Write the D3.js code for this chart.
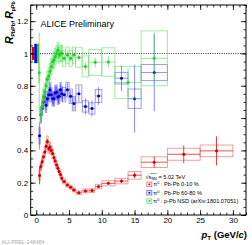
<!DOCTYPE html>
<html><head><meta charset="utf-8">
<script src="https://cdn.jsdelivr.net/npm/d3@7"></script>
<style>
body{margin:0;background:#fff}
svg{display:block}
text{font-family:"Liberation Sans",Arial,Helvetica,sans-serif}
</style>
</head><body>
<svg id="c" width="252" height="245"></svg>
<script>
// ---------------- data ----------------
// pi0 Pb-Pb 0-10 %
const redPt   = [0.5,0.7,0.9,1.1,1.3,1.5,1.7,1.9,2.1,2.3,2.5,2.7,2.9,3.1,3.3,3.5,3.7,3.9,4.25,4.75,5.25,5.75,6.5,7.5,8.5,9.5,11,13,15,18,22.5,27.5];
const redVal  = [0.245,0.30,0.33,0.36,0.39,0.425,0.455,0.41,0.42,0.40,0.38,0.355,0.335,0.31,0.29,0.27,0.25,0.228,0.208,0.186,0.172,0.155,0.138,0.149,0.151,0.176,0.196,0.21,0.246,0.327,0.376,0.397];
const redStat = [0.055,0.02,0.015,0.012,0.012,0.012,0.015,0.012,0.01,0.01,0.01,0.01,0.01,0.01,0.01,0.01,0.01,0.01,0.008,0.008,0.008,0.008,0.008,0.008,0.009,0.01,0.01,0.012,0.018,0.034,0.055,0.09];
const redSyst = [0.03,0.025,0.025,0.025,0.03,0.03,0.035,0.03,0.03,0.028,0.027,0.025,0.024,0.022,0.02,0.019,0.018,0.016,0.015,0.013,0.012,0.012,0.011,0.012,0.012,0.014,0.016,0.017,0.024,0.033,0.037,0.036];
const redEx   = [0.1,0.1,0.1,0.1,0.1,0.1,0.1,0.1,0.1,0.1,0.1,0.1,0.1,0.1,0.1,0.1,0.1,0.1,0.25,0.25,0.25,0.25,0.4,0.4,0.4,0.5,1,1,1,2,2.5,2.5];

// pi0 Pb-Pb 60-80 %
const bluePt   = [0.5,0.7,0.9,1.1,1.3,1.5,1.7,1.9,2.1,2.3,2.5,2.7,2.9,3.1,3.3,3.5,3.7,3.9,4.25,4.75,5.25,5.75,6.5,7.5,8.5,9.5,13,15,18];
const blueVal  = [0.49,0.62,0.66,0.70,0.73,0.68,0.72,0.745,0.775,0.745,0.72,0.72,0.755,0.76,0.73,0.735,0.775,0.75,0.745,0.775,0.735,0.69,0.75,0.672,0.66,0.737,0.847,0.72,0.882];
const blueStat = [0.085,0.04,0.035,0.035,0.035,0.035,0.035,0.035,0.035,0.035,0.035,0.035,0.035,0.035,0.035,0.035,0.035,0.035,0.035,0.04,0.04,0.04,0.05,0.05,0.05,0.055,0.08,0.21,0.24];
const blueSyst = [0.05,0.045,0.045,0.045,0.045,0.045,0.045,0.045,0.045,0.045,0.045,0.045,0.045,0.045,0.045,0.045,0.045,0.045,0.045,0.045,0.045,0.045,0.055,0.035,0.035,0.04,0.036,0.06,0.05];
const blueEx   = [0.1,0.1,0.1,0.1,0.1,0.1,0.1,0.1,0.1,0.1,0.1,0.1,0.1,0.1,0.1,0.1,0.1,0.1,0.25,0.25,0.25,0.25,0.45,0.45,0.45,0.5,1,1,2];

// pi0 p-Pb NSD
const greenPt   = [0.45,0.7,0.9,1.1,1.3,1.5,1.7,1.9,2.1,2.3,2.5,2.7,2.9,3.1,3.3,3.5,3.7,3.9,4.25,4.75,5.25,5.75,6.5,7.5,9,11,14,18];
const greenVal  = [0.88,0.62,0.67,0.73,0.765,0.80,0.84,0.86,0.89,0.92,0.95,0.96,0.98,1.0,1.02,0.99,1.0,1.0,0.97,0.99,0.97,0.99,0.975,0.92,0.945,0.947,0.82,0.97];
const greenStat = [0.25,0.06,0.04,0.03,0.025,0.02,0.02,0.02,0.02,0.02,0.02,0.02,0.02,0.02,0.02,0.02,0.02,0.02,0.02,0.02,0.02,0.02,0.02,0.025,0.03,0.035,0.09,0.16];
const greenSyst = [0.06,0.05,0.05,0.05,0.05,0.05,0.05,0.05,0.05,0.05,0.05,0.05,0.05,0.05,0.05,0.05,0.05,0.05,0.05,0.05,0.05,0.05,0.06,0.065,0.08,0.088,0.1,0.17];
const greenEx   = [0.08,0.1,0.1,0.1,0.1,0.1,0.1,0.1,0.1,0.1,0.1,0.1,0.1,0.1,0.1,0.1,0.1,0.1,0.25,0.25,0.25,0.25,0.5,0.5,1,1,2,2];

// normalisation uncertainties (at R = 1)
const normLo  = [-0.66,-0.3,0.1];
const normHi  = [-0.3,0.1,0.42];
const normErr = [0.04,0.06,0.06];

const xMajorTicks = [0,5,10,15,20,25,30];
const yMajorTicks = [0,0.2,0.4,0.6,0.8,1.0,1.2];
const legendLabels = ["Pb-Pb 0-10 %","Pb-Pb 60-80 %","p-Pb NSD (arXiv:1801.07051)"];

// ---------------- drawing ----------------
const svg = d3.select("#c");
const L = 30.7, R = 246, T = 5, B = 215;
const x = d3.scaleLinear().domain([-0.85, 32]).range([L, R]);
const y = d3.scaleLinear().domain([0, 1.3]).range([B, T]);

svg.append("defs").append("clipPath").attr("id","clip")
  .append("rect").attr("x",L).attr("y",T).attr("width",R-L).attr("height",B-T);

const plot = svg.append("g").attr("clip-path","url(#clip)");

// dotted line at 1
plot.append("line").attr("x1",L).attr("x2",R).attr("y1",y(1)).attr("y2",y(1))
  .attr("stroke","#000").attr("stroke-width",0.8).attr("stroke-dasharray","1,1.3");

// normalisation boxes
const normColors = ["#e00000","#0000e0","#33cc33"];
plot.selectAll("rect.norm").data(normLo).join("rect").attr("class","norm")
  .attr("x",(d,i)=>x(normLo[i])).attr("width",(d,i)=>x(normHi[i])-x(normLo[i]))
  .attr("y",(d,i)=>y(1+normErr[i])).attr("height",(d,i)=>y(1-normErr[i])-y(1+normErr[i]))
  .attr("fill",(d,i)=>normColors[i]);

function series(pt,val,stat,syst,ex,boxC,barC,mC){
  const g = plot.append("g");
  const idx = d3.range(pt.length);
  g.selectAll("rect").data(idx).join("rect")
    .attr("x",i=>x(pt[i]-ex[i])).attr("width",i=>x(pt[i]+ex[i])-x(pt[i]-ex[i]))
    .attr("y",i=>y(val[i]+syst[i])).attr("height",i=>y(val[i]-syst[i])-y(val[i]+syst[i]))
    .attr("fill","none").attr("stroke",boxC).attr("stroke-width",0.9);
  g.selectAll("line.h").data(idx).join("line").attr("class","h")
    .attr("x1",i=>x(pt[i]-ex[i])).attr("x2",i=>x(pt[i]+ex[i]))
    .attr("y1",i=>y(val[i])).attr("y2",i=>y(val[i]))
    .attr("stroke",barC).attr("stroke-width",0.9);
  g.selectAll("line.v").data(idx).join("line").attr("class","v")
    .attr("x1",i=>x(pt[i])).attr("x2",i=>x(pt[i]))
    .attr("y1",i=>y(val[i]-stat[i])).attr("y2",i=>y(val[i]+stat[i]))
    .attr("stroke",barC).attr("stroke-width",1);
  g.selectAll("circle").data(idx).join("circle")
    .attr("cx",i=>x(pt[i])).attr("cy",i=>y(val[i])).attr("r",1.5).attr("fill",mC);
}
series(redPt,redVal,redStat,redSyst,redEx,"rgba(232,60,60,0.55)","rgba(225,30,30,0.85)","#d00000");
series(bluePt,blueVal,blueStat,blueSyst,blueEx,"rgba(60,60,230,0.55)","rgba(60,60,240,0.6)","#0000c8");
series(greenPt,greenVal,greenStat,greenSyst,greenEx,"rgba(80,220,80,0.6)","rgba(60,210,60,0.6)","#22cc22");

// frame
svg.append("rect").attr("x",L).attr("y",T).attr("width",R-L).attr("height",B-T)
  .attr("fill","none").attr("stroke","#000").attr("stroke-width",1);

const xMinor = d3.range(0,33,1);
const yMinor = d3.range(0,1.301,0.05);
function styleAxis(g){ g.select(".domain").remove(); g.selectAll("line").attr("stroke","#000").attr("stroke-width",0.8); }
svg.append("g").attr("transform",`translate(0,${B})`)
  .call(d3.axisBottom(x).tickValues(xMajorTicks).tickSize(-5).tickPadding(2).tickFormat(d3.format("d")))
  .call(styleAxis).call(g=>g.selectAll("text").attr("font-size",8).attr("fill","#000").attr("font-family","Liberation Sans, Arial, sans-serif"));
svg.append("g").attr("transform",`translate(0,${B})`)
  .call(d3.axisBottom(x).tickValues(xMinor).tickSize(-2.5).tickFormat("")).call(styleAxis);
svg.append("g").attr("transform",`translate(0,${T})`)
  .call(d3.axisTop(x).tickValues(xMajorTicks).tickSize(-5).tickFormat("")).call(styleAxis);
svg.append("g").attr("transform",`translate(0,${T})`)
  .call(d3.axisTop(x).tickValues(xMinor).tickSize(-2.5).tickFormat("")).call(styleAxis);
svg.append("g").attr("transform",`translate(${L},0)`)
  .call(d3.axisLeft(y).tickValues(yMajorTicks).tickSize(-5).tickPadding(2.5).tickFormat(d3.format("~g")))
  .call(styleAxis).call(g=>g.selectAll("text").attr("font-size",8).attr("fill","#000").attr("font-family","Liberation Sans, Arial, sans-serif"));
svg.append("g").attr("transform",`translate(${L},0)`)
  .call(d3.axisLeft(y).tickValues(yMinor).tickSize(-2.5).tickFormat("")).call(styleAxis);
svg.append("g").attr("transform",`translate(${R},0)`)
  .call(d3.axisRight(y).tickValues(yMajorTicks).tickSize(-5).tickFormat("")).call(styleAxis);
svg.append("g").attr("transform",`translate(${R},0)`)
  .call(d3.axisRight(y).tickValues(yMinor).tickSize(-2.5).tickFormat("")).call(styleAxis);

// axis titles
const yt = svg.append("text").attr("transform","translate(13,44) rotate(-90)").attr("fill","#000").attr("font-weight","bold");
yt.append("tspan").text("R").attr("font-style","italic").attr("font-size",10.5);
yt.append("tspan").text("PbPb").attr("font-size",5.2).attr("dy",2);
yt.append("tspan").text(",").attr("font-size",10.5).attr("dy",-2);
yt.append("tspan").text(" R").attr("font-style","italic").attr("font-size",10.5).attr("dx",-1.5);
yt.append("tspan").text("pPb").attr("font-size",5.2).attr("dy",2);

const xt = svg.append("text").attr("x",247).attr("y",238).attr("text-anchor","end").attr("fill","#000").attr("font-size",9.5).attr("font-weight","bold");
xt.append("tspan").text("p").attr("font-style","italic");
xt.append("tspan").text("T").attr("font-size",6.2).attr("dy",2);
xt.append("tspan").text(" (GeV/").attr("dy",-2);
xt.append("tspan").text("c").attr("font-style","italic");
xt.append("tspan").text(")");

// ALICE Preliminary
svg.append("text").attr("x",40.5).attr("y",27).attr("font-size",9).attr("fill","#000").text("ALICE Preliminary");

// legend
const lg = svg.append("g").attr("font-size",5.6).attr("fill","#000");
const hd = lg.append("text").attr("x",145.5).attr("y",178.5);
hd.append("tspan").text("√");
hd.append("tspan").text("s").attr("font-size",5.6);
hd.append("tspan").text("NN").attr("font-size",3.8).attr("dy",1.2);
hd.append("tspan").text(" = 5.02 TeV").attr("dy",-1.2);
lg.append("line").attr("x1",150).attr("x2",156.8).attr("y1",173.6).attr("y2",173.6).attr("stroke","#000").attr("stroke-width",0.4);

const legBox = ["rgba(232,60,60,0.8)","rgba(60,60,230,0.8)","rgba(80,220,80,0.9)"];
const legM = ["#d00000","#0000c8","#22cc22"];
const ly = [184.4,192.7,201.1];
legendLabels.forEach((lab,i)=>{
  lg.append("rect").attr("x",146.8).attr("y",ly[i]-2.3).attr("width",5).attr("height",4.6)
    .attr("fill","#fff").attr("stroke",legBox[i]).attr("stroke-width",0.8);
  lg.append("rect").attr("x",148.5).attr("y",ly[i]-0.9).attr("width",1.8).attr("height",1.8).attr("fill",legM[i]);
  const t = lg.append("text").attr("x",153.3).attr("y",ly[i]+2);
  t.append("tspan").text("π");
  t.append("tspan").text("0").attr("font-size",3.8).attr("dy",-2);
  t.append("tspan").text(" : "+lab).attr("dy",2);
});

// reference id
svg.append("text").attr("x",1.5).attr("y",244).attr("font-size",5.3).attr("fill","#aaa")
  .attr("font-family","DejaVu Sans Mono, monospace").text("ALI-PREL-148484");
</script>
</body></html>
